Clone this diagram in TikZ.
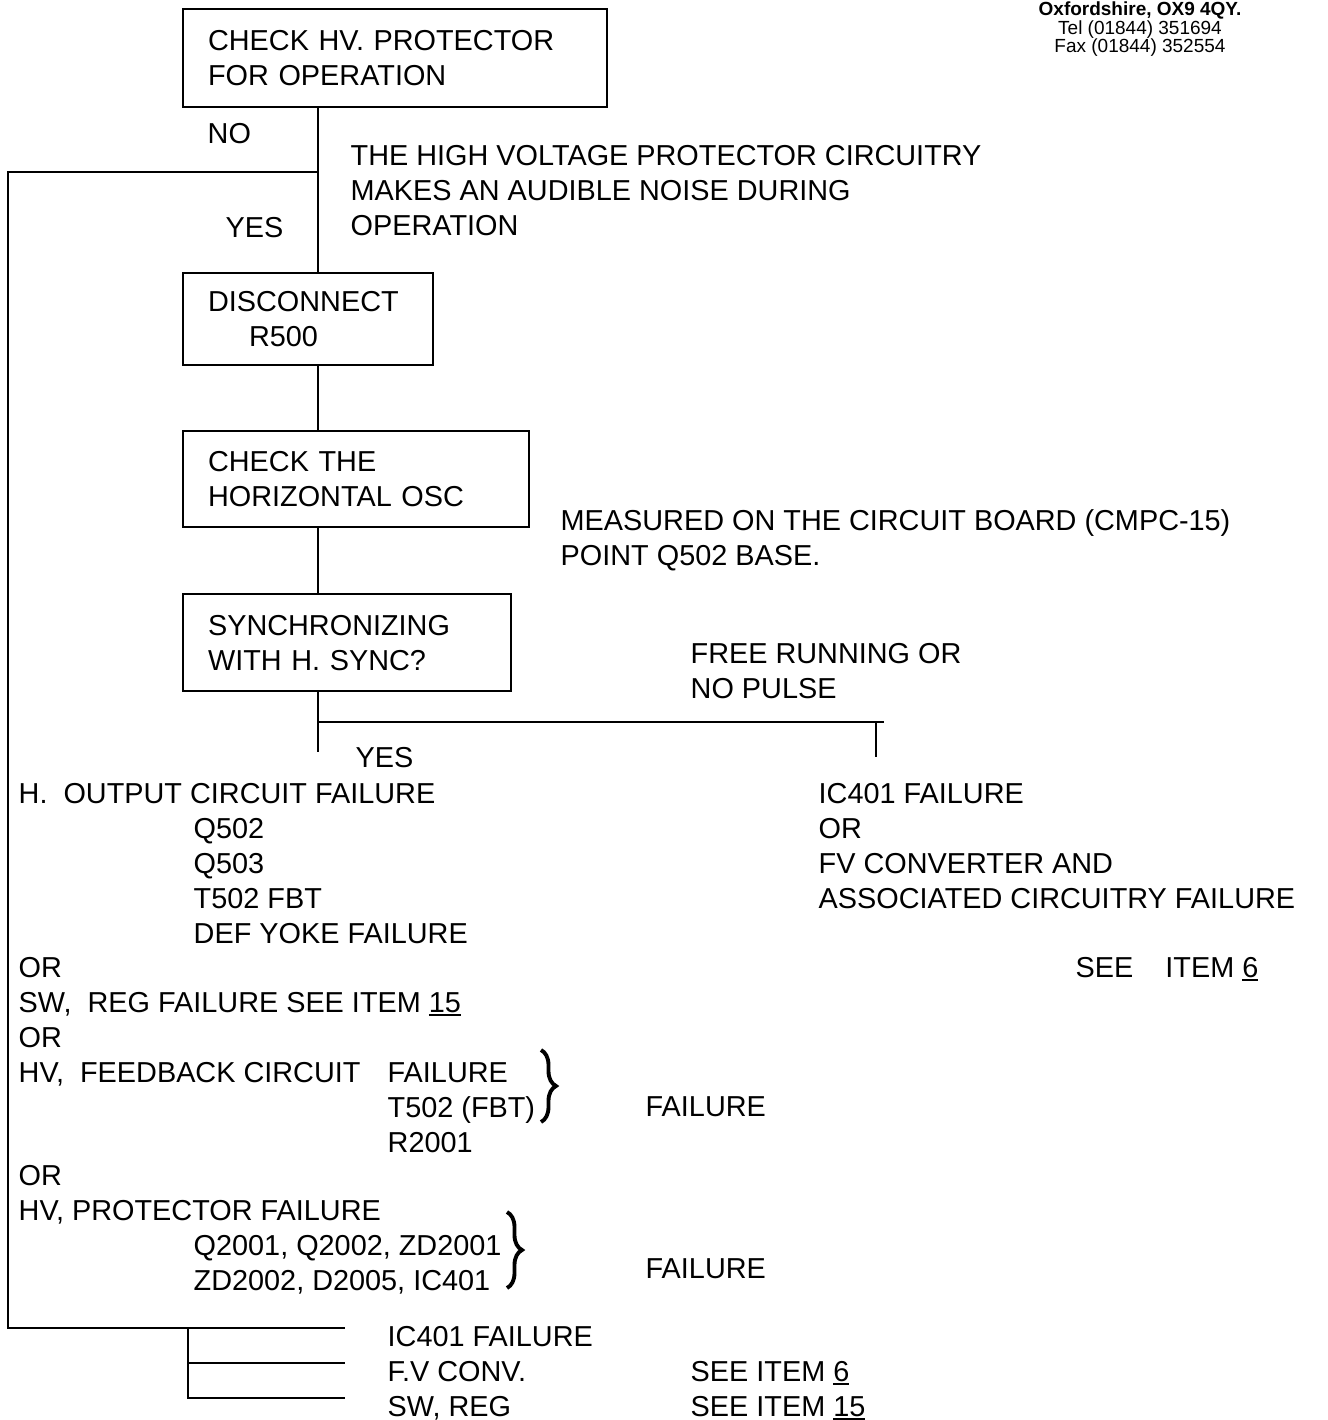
\documentclass[tikz,border=0pt]{standalone}
\usepackage{fontspec}
\setmainfont{Liberation Sans}
\usetikzlibrary{decorations.pathreplacing}

\newcommand{\itemno}[1]{\setbox0\hbox{#1}\rlap{\rule[-0.8pt]{\wd0}{0.5pt}}\box0}

\tikzset{
    stepbox/.style={draw, line width=0.6pt, anchor=north west, align=left, inner xsep=0.25cm, inner ysep=0pt},
    lbl/.style={anchor=north west, inner sep=0pt, align=left},
    grpbrace/.style={decorate, decoration={brace, amplitude=0.15cm}, line width=1.1pt},
    wire/.style={line width=0.6pt}
}

\begin{document}
\begin{tikzpicture}[x=0.01cm, y=-0.01cm, font=\fontsize{8.2}{9.96}\selectfont]
        \useasboundingbox (0,0) rectangle (1328,1420);

        % adresse en haut a droite
        \node (addr) at (1140,1) [anchor=north, inner sep=0pt, align=center, font=\fontsize{5.4}{5.3}\selectfont]{\bfseries Oxfordshire, OX9 4QY.\\ Tel (01844) 351694\\ Fax (01844) 352554};

        % les boites
        \node (hvchk) at (182,8) [stepbox, text width=3.74cm, minimum height=0.98cm]{CHECK HV. PROTECTOR\\ FOR OPERATION};
        \node (disc) at (182,272) [stepbox, text width=2.0cm, minimum height=0.92cm]{DISCONNECT\\ \hspace*{0.41cm}R500};
        \node (hosc) at (182,430) [stepbox, text width=2.96cm, minimum height=0.96cm]{CHECK THE\\ HORIZONTAL OSC};
        \node (sync) at (182,593) [stepbox, text width=2.78cm, minimum height=0.97cm]{SYNCHRONIZING\\ WITH H. SYNC?};

        % points de passage
        \coordinate (trunk) at (318,0);
        \coordinate (nojoin) at (318,172);
        \coordinate (loopL) at (8,172);
        \coordinate (yesend) at (318,752);
        \coordinate (split) at (318,722);
        \coordinate (splitR) at (884,722);
        \coordinate (icT) at (876,757);
        \coordinate (fork) at (188,1328);
        \coordinate (bot1) at (345,1328);
        \coordinate (bot2) at (345,1363);
        \coordinate (bot3) at (345,1398);

        % liaisons
        \draw[wire] (hvchk.south -| trunk) -- (disc.north -| trunk);
        \draw[wire] (disc.south -| trunk) -- (hosc.north -| trunk);
        \draw[wire] (hosc.south -| trunk) -- (sync.north -| trunk);
        \draw[wire] (sync.south -| trunk) -- (yesend);
        \draw[wire] (nojoin) -- (loopL) |- (bot1);
        \draw[wire] (split) -- (splitR);
        \draw[wire] (icT |- split) -- (icT);
        \draw[wire] (fork) |- (bot3);
        \draw[wire] (fork |- bot2) -- (bot2);

        % textes
        \node (no) at (207,123) [lbl]{NO};
        \node (yes1) at (225,217) [lbl]{YES};
        \node (noise) at (350,145) [lbl]{THE HIGH VOLTAGE PROTECTOR CIRCUITRY\\ MAKES AN AUDIBLE NOISE DURING\\ OPERATION};
        \node (meas) at (560,509) [lbl]{MEASURED ON THE CIRCUIT BOARD (CMPC-15)\\ POINT Q502 BASE.};
        \node (free) at (690,643) [lbl]{FREE RUNNING OR\\ NO PULSE};
        \node (yes2) at (355,747) [lbl]{YES};

        \node (hout) at (18,783) [lbl]{H.\ \ OUTPUT CIRCUIT FAILURE};
        \node (houtl) at (193,818) [lbl]{Q502\\ Q503\\ T502 FBT\\ DEF YOKE FAILURE};
        \node (swreg) at (18,957) [lbl]{OR\\ SW,\ \ REG FAILURE SEE ITEM \itemno{15}\\ OR};
        \node (fb) at (18,1062) [lbl]{HV,\ \ FEEDBACK CIRCUIT};
        \node (fbl) at (387,1062) [lbl]{FAILURE\\ T502 (FBT)\\ R2001};
        \node (fbfail) at (645,1096) [lbl]{FAILURE};
        \node (or3) at (18,1165) [lbl]{OR};
        \node (prot) at (18,1200) [lbl]{HV, PROTECTOR FAILURE};
        \node (protl) at (193,1235) [lbl]{Q2001, Q2002, ZD2001\\ ZD2002, D2005, IC401};
        \node (protfail) at (645,1258) [lbl]{FAILURE};

        \node (ic) at (818,783) [lbl]{IC401 FAILURE\\ OR\\ FV CONVERTER AND\\ ASSOCIATED CIRCUITRY FAILURE};
        \node (see6) at (1075,957) [lbl]{SEE\ \ \ \ ITEM \itemno{6}};

        \node (botl) at (387,1326) [lbl]{IC401 FAILURE\\ F.V CONV.\\ SW, REG};
        \node (botr) at (690,1361) [lbl]{SEE ITEM \itemno{6}\\ SEE ITEM \itemno{15}};

        % accolades
        \draw[grpbrace] (541,1050) -- (541,1122);
        \draw[grpbrace] (507,1212) -- (507,1288);
\end{tikzpicture}
\end{document}
